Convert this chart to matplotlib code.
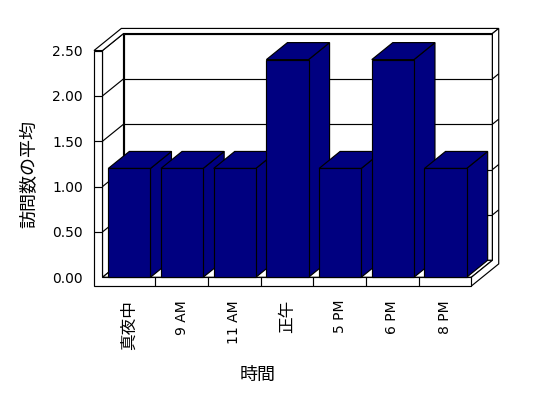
import matplotlib
matplotlib.use('Agg')
import matplotlib.pyplot as plt
from matplotlib.patches import Polygon

# chart data
categories = ['真夜中', '9 AM', '11 AM', '正午', '5 PM', '6 PM', '8 PM']
values = [1.2, 1.2, 1.2, 2.4, 1.2, 2.4, 1.2]
y_ticks = [0.0, 0.5, 1.0, 1.5, 2.0, 2.5]
y_tick_labels = ['0.00', '0.50', '1.00', '1.50', '2.00', '2.50']
x_title = '時間'
y_title = '訪問数の平均'

bar_color = '#000080'
fonts = ['DejaVu Sans', 'Noto Sans CJK JP']

# pseudo 3d geometry (category units on x, value units on y)
DX, DY = 0.399, 0.1875      # shift for one unit of depth
WALL = 0.161                # left wall thickness
FLOOR = 0.096               # floor thickness
BACK = 1.3                  # depth incl. back wall thickness
N = len(categories)
TOP = y_ticks[-1]
LW = 0.85

# draw order counter, later things go on top
order = [1]


def nextz():
    order[0] += 1
    return order[0]


def pt(x, y, d):
    return (x + d * DX, y + d * DY)


def face(ax, corners, fc='white'):
    ax.add_patch(Polygon([pt(*c) for c in corners], closed=True, fc=fc,
                         ec='black', lw=LW, joinstyle='miter',
                         clip_on=False, zorder=nextz()))


def seg(ax, a, b):
    p, q = pt(*a), pt(*b)
    ax.plot([p[0], q[0]], [p[1], q[1]], color='black', lw=LW,
            solid_capstyle='butt', clip_on=False, zorder=nextz())


fig = plt.figure(figsize=(5.48, 3.98), dpi=100)
ax = fig.add_axes([94 / 548, (398 - 286) / 398, 406 / 548, 259 / 398])
ax.set_xlim(-WALL, 7.543)
ax.set_ylim(-FLOOR, 2.7596)

# inner faces: back wall, left wall, floor
face(ax, [(0, 0, 1), (N, 0, 1), (N, TOP, 1), (0, TOP, 1)])
face(ax, [(0, 0, 0), (0, 0, 1), (0, TOP, 1), (0, TOP, 0)])
face(ax, [(0, 0, 0), (N, 0, 0), (N, 0, 1), (0, 0, 1)])

# outer faces of the frame
face(ax, [(-WALL, TOP, 0), (0, TOP, 0), (0, TOP, 1), (N, TOP, 1),
          (N, TOP, BACK), (-WALL, TOP, BACK)])
face(ax, [(N, -FLOOR, 0), (N, 0, 0), (N, 0, 1), (N, TOP, 1),
          (N, TOP, BACK), (N, -FLOOR, BACK)])
face(ax, [(-WALL, -FLOOR, 0), (N, -FLOOR, 0), (N, 0, 0), (0, 0, 0),
          (0, TOP, 0), (-WALL, TOP, 0)])

# gridlines
for v in y_ticks[1:-1]:
    seg(ax, (-WALL, v, 0), (0, v, 0))
    seg(ax, (0, v, 0), (0, v, 1))
    seg(ax, (0, v, 1), (N, v, 1))
    seg(ax, (N, v, 1), (N, v, BACK))

# category ticks on the floor front
for k in range(1, N):
    seg(ax, (k, -FLOOR, 0), (k, 0, 0))

# bars, left to right
for k, v in enumerate(values):
    x0, x1 = k + 0.11, k + 0.91
    face(ax, [(x1, 0, 0), (x1, 0, 1), (x1, v, 1), (x1, v, 0)], bar_color)
    face(ax, [(x0, v, 0), (x1, v, 0), (x1, v, 1), (x0, v, 1)], bar_color)
    face(ax, [(x0, 0, 0), (x1, 0, 0), (x1, v, 0), (x0, v, 0)], bar_color)

for s in ax.spines.values():
    s.set_visible(False)

ax.set_yticks(y_ticks, y_tick_labels)
ax.set_xticks([k + 0.5 for k in range(N)], categories, rotation=90)
ax.tick_params(axis='y', length=0, pad=8, labelsize=10)
ax.tick_params(axis='x', length=0, pad=10, labelsize=10)
for lab in ax.get_xticklabels() + ax.get_yticklabels():
    lab.set_family(fonts)
    if not lab.get_text().isascii():
        lab.set_fontsize(12)

fig.text(29 / 548, 1 - 174 / 398, y_title, rotation=90, ha='center',
         va='center', fontsize=13, family=fonts)
fig.text(258 / 548, 1 - 375 / 398, x_title, ha='center', va='center',
         fontsize=13, family=fonts)

fig.savefig('out.png', dpi=100)
